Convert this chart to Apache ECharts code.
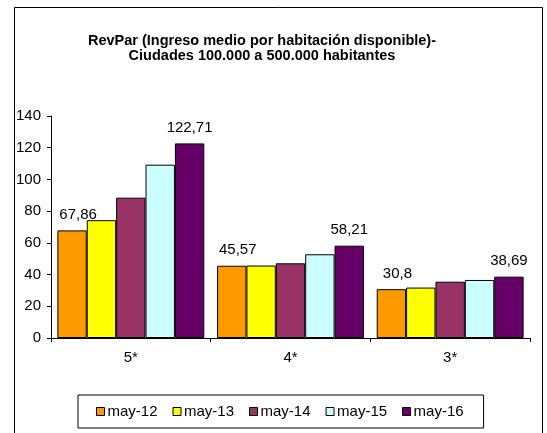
<!DOCTYPE html>
<html>
<head>
<meta charset="utf-8">
<script src="https://cdn.jsdelivr.net/npm/echarts@6/dist/echarts.min.js"></script>
<style>
  html, body { margin: 0; padding: 0; background: #fff; }
  #chart { width: 547px; height: 433px; }
</style>
</head>
<body>
<div id="chart"></div>
<script>
// datos
const categories = ['5*', '4*', '3*']
const seriesNames = ['may-12', 'may-13', 'may-14', 'may-15', 'may-16']
const may12 = [67.86, 45.57, 30.8]
const may13 = [74.3, 45.7, 31.8]
const may14 = [88.5, 47.1, 35.5]
const may15 = [109.3, 52.8, 36.6]
const may16 = [122.71, 58.21, 38.69]
const yTicks = [0, 20, 40, 60, 80, 100, 120, 140]
const colorList = ['#FF9900', '#FFFF00', '#993366', '#CCFFFF', '#660066']

const values = [may12, may13, may14, may15, may16]
const font = 'Liberation Sans, Arial, sans-serif'

const chart = echarts.init(document.getElementById('chart'))

const series = seriesNames.map((name, i) => {
  const showLabel = i === 0 || i === seriesNames.length - 1
  return {
    name: name,
    type: 'bar',
    barGap: '0%',
    barCategoryGap: '8%',
    data: values[i],
    itemStyle: {
      color: colorList[i],
      borderColor: '#000',
      borderWidth: 1
    },
    label: {
      show: showLabel,
      position: 'top',
      distance: 8,
      offset: [i === 0 ? 6 : 0, 0],
      fontFamily: font,
      fontSize: 15,
      color: '#000',
      formatter: (p) => String(p.value).replace('.', ',')
    }
  }
})

const option = {
  animation: false,
  color: colorList,
  title: {
    text: 'RevPar (Ingreso medio por habitación disponible)-\nCiudades 100.000 a 500.000 habitantes',
    left: 257,
    top: 28,
    textAlign: 'center',
    textStyle: {
      fontFamily: font,
      fontSize: 14.5,
      fontWeight: 'bold',
      lineHeight: 15,
      color: '#000'
    }
  },
  graphic: [{
    type: 'rect',
    left: 12,
    top: 5,
    shape: { width: 528, height: 460 },
    style: { fill: 'none', stroke: '#000', lineWidth: 1 },
    silent: true
  }],
  legend: {
    data: seriesNames,
    left: 78,
    top: 395,
    padding: [9, 20, 9, 18],
    itemGap: 15,
    itemWidth: 8,
    itemHeight: 8,
    borderColor: '#000',
    borderWidth: 1,
    icon: 'rect',
    itemStyle: { borderColor: '#000', borderWidth: 1 },
    textStyle: {
      fontFamily: font,
      fontSize: 15,
      color: '#000',
      padding: [0, 0, 0, -2]
    }
  },
  grid: {
    left: 51,
    right: 17,
    top: 116,
    bottom: 95
  },
  xAxis: {
    type: 'category',
    data: categories,
    axisLine: { lineStyle: { color: '#000', width: 1 } },
    axisTick: { show: true, length: 4, lineStyle: { color: '#000' } },
    axisLabel: {
      fontFamily: font,
      fontSize: 15,
      color: '#000',
      margin: 12
    }
  },
  yAxis: {
    type: 'value',
    min: yTicks[0],
    max: yTicks[yTicks.length - 1],
    interval: 20,
    axisLine: { show: true, lineStyle: { color: '#000', width: 1 } },
    axisTick: { show: true, length: 4, lineStyle: { color: '#000' } },
    splitLine: { show: false },
    axisLabel: {
      fontFamily: font,
      fontSize: 15,
      color: '#000',
      margin: 10
    }
  },
  series: series
}

chart.setOption(option)
</script>
</body>
</html>
